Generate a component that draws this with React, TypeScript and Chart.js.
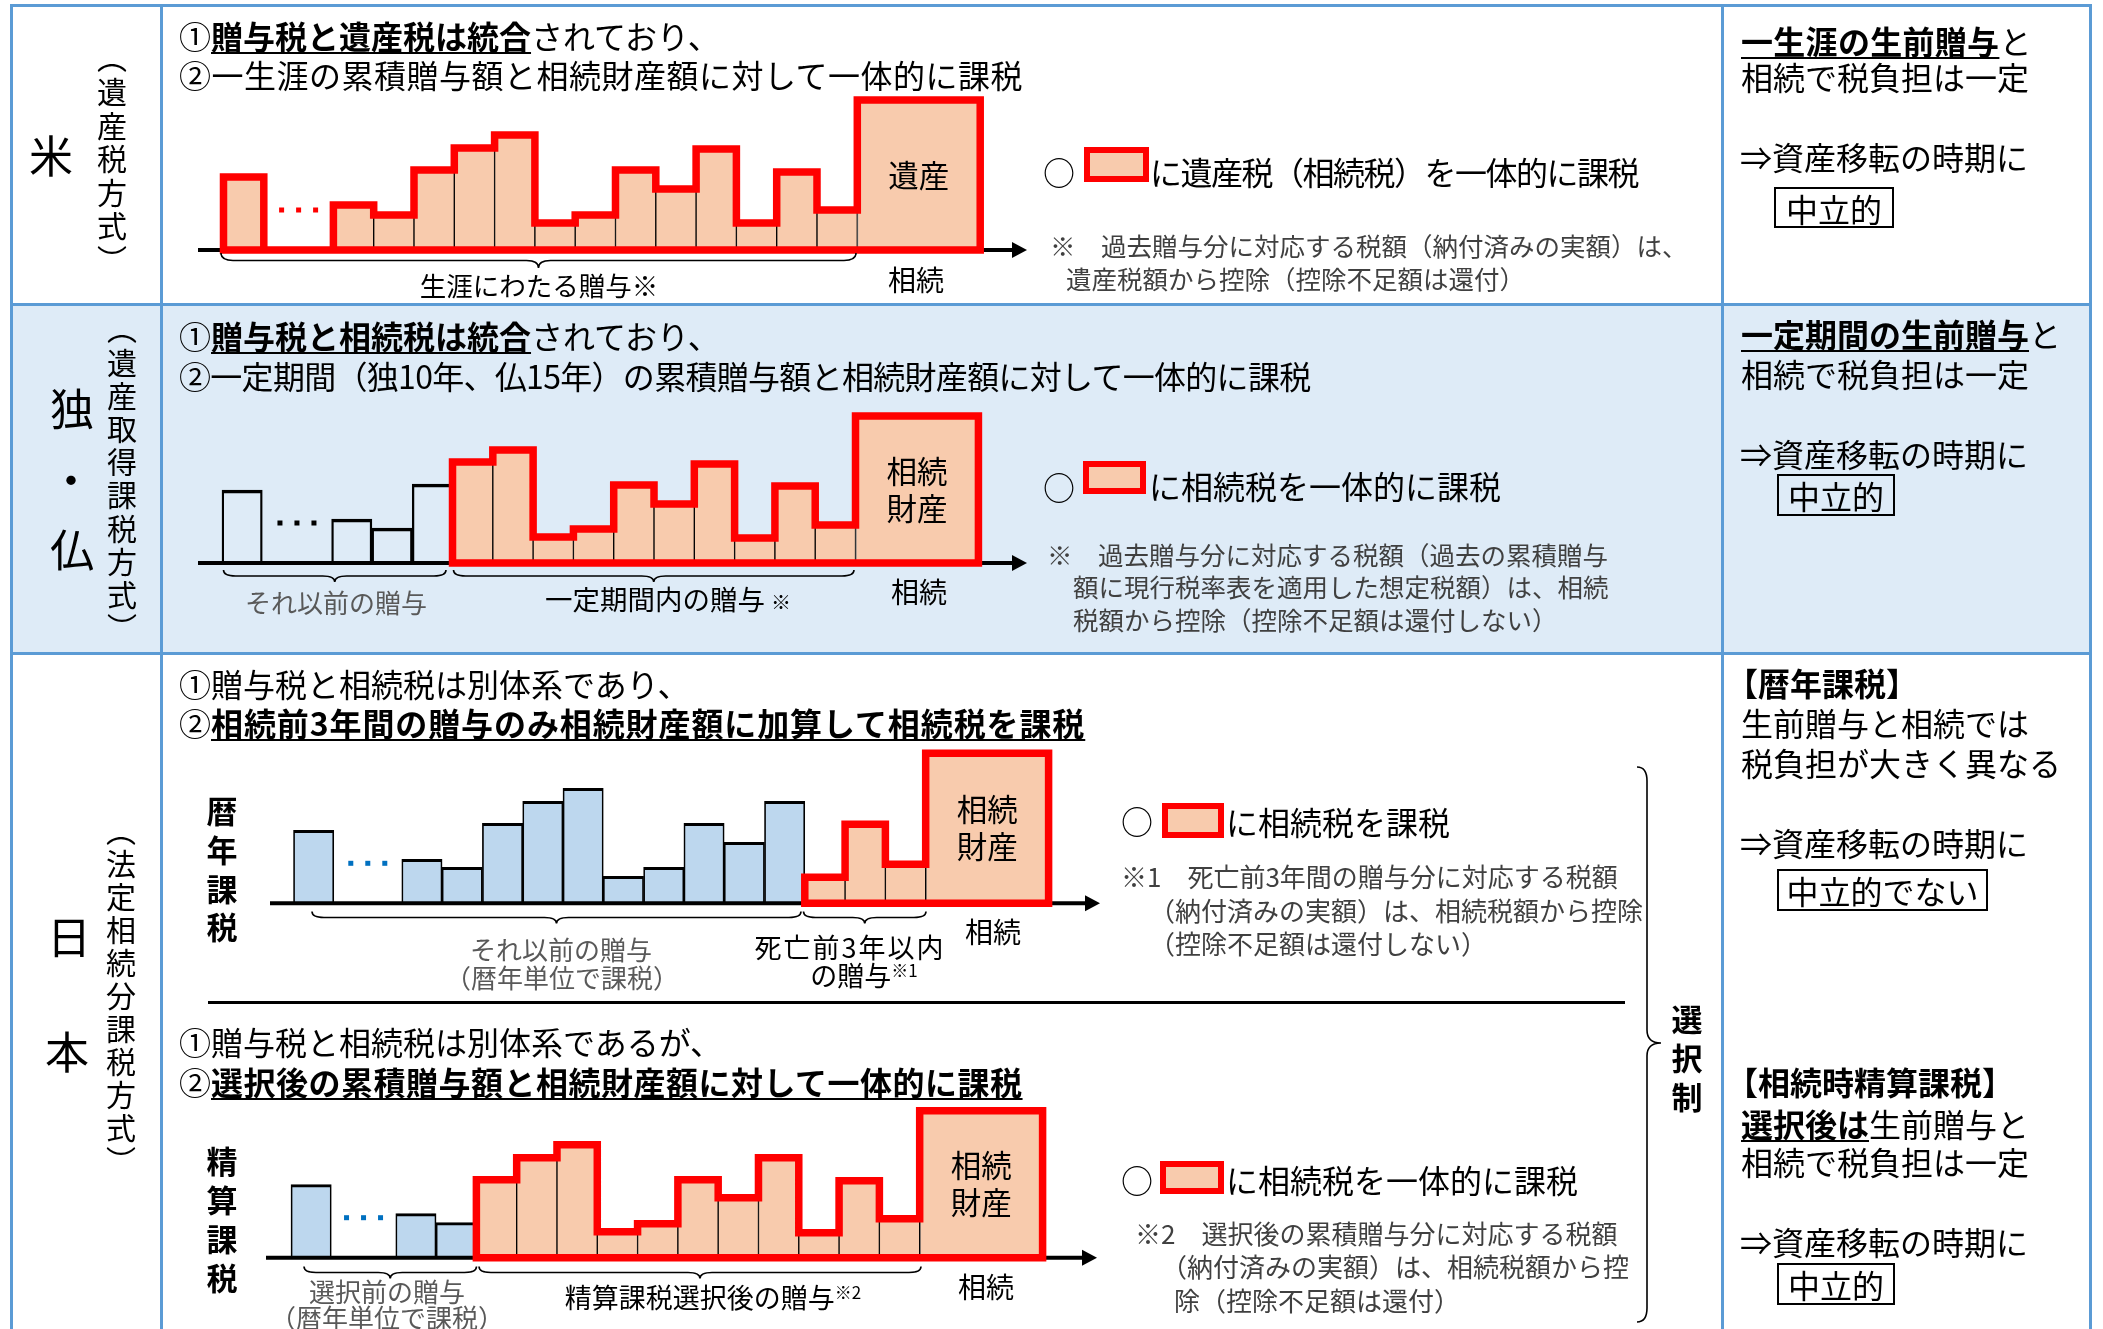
import React, { useEffect, useRef } from "react";
import { Chart, registerables } from "chart.js";

Chart.register(...registerables);

const FONT = '"Noto Sans CJK JP", "Noto Sans CJK SC", sans-serif';
const RED = "#FF0000";
const SALMON = "#F8CBAD";
const LIGHT_BLUE = "#BDD7EE";
const DOT_BLUE = "#0070C0";
const FRAME = "#5B9BD5";
const BAND = "#DEEBF7";
const NOTE = "#404040";
const GRAY = "#595959";

// ---------------- data (bar heights) ----------------
// 米：遺産税方式
const usGifts = [73, 45, 35, 80, 102, 115, 27, 35, 80, 61, 101, 27, 78, 40];
const usEstate = 150;
const usTaxedFrom = 0;
// 独・仏：遺産取得課税方式
const deFrGifts = [73, 44, 35, 79, 101, 113, 26, 34, 78, 59, 99, 25, 77, 38];
const deFrEstate = 147;
const deFrTaxedFrom = 4;
// 日本：暦年課税
const jpAnnualGifts = [73, 44, 36, 80, 102, 115, 27, 36, 80, 61, 102, 26, 79, 39];
const jpAnnualEstate = 150;
const jpAnnualTaxedFrom = 11;
// 日本：相続時精算課税
const jpSettleGifts = [73, 44, 35, 78, 100, 113, 26, 34, 78, 60, 100, 25, 77, 39];
const jpSettleEstate = 147;
const jpSettleTaxedFrom = 3;

const usEstateLabel = ["遺産"];
const inheritLabel = ["相続", "財産"];

// ---------------- layout constants ----------------
const UNIT_PX = 40.3; // px per gift year
const ESTATE_UNITS = 3.05; // width of estate bar in gift-year units
const DOTS_LEVEL = 40; // height of the "…" mark

type Layout = { left: number; top: number; width: number; height: number; x0: number; base: number; gap: number };

type DiagramProps = {
  gifts: number[];
  estate: number;
  taxedFrom: number;
  plainFill: string;
  dotColor: string;
  estateLabel: string[];
  layout: Layout;
};

function Diagram({ gifts, estate, taxedFrom, plainFill, dotColor, estateLabel, layout }: DiagramProps) {
  const ref = useRef<HTMLCanvasElement>(null);
  useEffect(() => {
    const { width, height, x0, base, gap } = layout;
    const n = gifts.length;
    const center = (i: number) => (i === 0 ? 0.5 : gap + i + 0.5);
    const L = (i: number) => center(i) - 0.5;
    const R = (i: number) => center(i) + 0.5;
    const giftData = gifts.map((v, i) => ({ x: center(i), y: v }));
    const eL = gap + n;
    const eR = eL + ESTATE_UNITS;
    const estateData = [{ x: eL + ESTATE_UNITS / 2, y: estate }];

    const outline: { x: number; y: number }[] = [{ x: L(taxedFrom), y: 0 }];
    for (let i = taxedFrom; i < n; i++) {
      if (i > taxedFrom && i === 1) outline.push({ x: R(0), y: 0 }, { x: L(1), y: 0 });
      outline.push({ x: L(i), y: gifts[i] }, { x: R(i), y: gifts[i] });
    }
    outline.push({ x: eL, y: estate }, { x: eR, y: estate }, { x: eR, y: 0 }, { x: L(taxedFrom), y: 0 });

    const decor = {
      id: "decor",
      beforeDatasetDraw(chart: any, args: any) {
        if (args.meta.type !== "line") return;
        const ctx = chart.ctx as CanvasRenderingContext2D;
        const y = chart.scales.y.getPixelForValue(0);
        const w = chart.width;
        ctx.save();
        ctx.strokeStyle = "#000";
        ctx.fillStyle = "#000";
        ctx.lineWidth = 4;
        ctx.beginPath();
        ctx.moveTo(0, y);
        ctx.lineTo(w - 12, y);
        ctx.stroke();
        ctx.beginPath();
        ctx.moveTo(w - 1, y);
        ctx.lineTo(w - 16, y - 8);
        ctx.lineTo(w - 16, y + 8);
        ctx.closePath();
        ctx.fill();
        ctx.restore();
      },
      afterDatasetsDraw(chart: any) {
        const ctx = chart.ctx as CanvasRenderingContext2D;
        const xs = chart.scales.x;
        const ys = chart.scales.y;
        ctx.save();
        // "…" between first gift and the rest
        const cx = xs.getPixelForValue(1 + gap / 2);
        const cy = ys.getPixelForValue(DOTS_LEVEL);
        ctx.fillStyle = dotColor;
        for (let k = -1; k <= 1; k++) ctx.fillRect(cx + k * 17 - 2.5, cy - 2.5, 5, 5);
        // estate label
        const el = chart.getDatasetMeta(1).data[0];
        const mid = (el.y + el.base) / 2;
        const fs = 30.5;
        const pitch = 37;
        ctx.fillStyle = "#000";
        ctx.font = `${fs}px ${FONT}`;
        ctx.textAlign = "center";
        ctx.textBaseline = "alphabetic";
        estateLabel.forEach((t, i) => {
          const lc = mid + (i - (estateLabel.length - 1) / 2) * pitch;
          ctx.fillText(t, el.x, lc + 0.38 * fs);
        });
        ctx.restore();
      },
    };

    const chart = new Chart(ref.current as HTMLCanvasElement, {
      type: "bar",
      data: {
        datasets: [
          {
            type: "line",
            data: outline,
            borderColor: RED,
            borderWidth: 7.5,
            pointRadius: 0,
            fill: false,
            tension: 0,
            borderJoinStyle: "miter",
            borderCapStyle: "square",
            order: 0,
            clip: false,
          } as any,
          {
            type: "bar",
            data: estateData,
            backgroundColor: SALMON,
            borderColor: "#000",
            borderWidth: { top: 2, left: 1, right: 2, bottom: 0 },
            barPercentage: ESTATE_UNITS,
            categoryPercentage: 1,
            grouped: false,
            order: 1,
            clip: false,
          } as any,
          {
            type: "bar",
            data: giftData,
            backgroundColor: (c: any) => (c.dataIndex >= taxedFrom ? SALMON : plainFill),
            borderColor: "#000",
            borderWidth: (c: any) =>
              c.dataIndex >= taxedFrom
                ? { top: 2, left: 1, right: 1, bottom: 0 }
                : { top: 3, left: 1.7, right: 1.7, bottom: 0 },
            barPercentage: 1,
            categoryPercentage: 1,
            grouped: false,
            order: 2,
            clip: false,
          } as any,
        ],
      },
      options: {
        animation: false,
        responsive: false,
        maintainAspectRatio: false,
        events: [],
        layout: { padding: 0 },
        plugins: { legend: { display: false }, tooltip: { enabled: false } },
        scales: {
          x: {
            type: "linear",
            display: false,
            min: -x0 / UNIT_PX,
            max: (width - x0) / UNIT_PX,
            afterBuildTicks: (s: any) => {
              s.ticks = [];
            },
          },
          y: { type: "linear", display: false, min: -(height - base), max: base },
        },
      } as any,
      plugins: [decor as any],
    });
    return () => chart.destroy();
  }, []);
  const { left, top, width, height } = layout;
  return (
    <canvas
      ref={ref}
      width={width}
      height={height}
      style={{ position: "absolute", left, top, width, height }}
    />
  );
}

// ---------------- text helpers ----------------
type TP = {
  x: number;
  y: number;
  s?: number;
  c?: string;
  w?: number;
  center?: boolean;
  ls?: number;
  children: React.ReactNode;
};
function T({ x, y, s = 32, c = "#000", w = 400, center, ls, children }: TP) {
  return (
    <div
      style={{
        position: "absolute",
        left: x,
        top: y - s * 0.556,
        fontSize: s,
        lineHeight: `${s}px`,
        color: c,
        fontWeight: w,
        whiteSpace: "nowrap",
        letterSpacing: ls,
        transform: center ? "translateX(-50%)" : undefined,
      }}
    >
      {children}
    </div>
  );
}
function U({ children }: { children: React.ReactNode }) {
  return (
    <span
      style={{
        fontWeight: 700,
        textDecoration: "underline",
        textDecorationThickness: "2px",
        textUnderlineOffset: "3px",
      }}
    >
      {children}
    </span>
  );
}
function V({ cx, top, s, ls, w = 400, children }: { cx: number; top: number; s: number; ls: number; w?: number; children: React.ReactNode }) {
  return (
    <div
      style={{
        position: "absolute",
        left: cx - s / 2,
        top,
        width: s,
        writingMode: "vertical-rl",
        fontSize: s,
        lineHeight: `${s}px`,
        letterSpacing: ls,
        fontWeight: w,
        whiteSpace: "nowrap",
      }}
    >
      {children}
    </div>
  );
}
function Box({ x, y, w, h, children }: { x: number; y: number; w: number; h: number; children: React.ReactNode }) {
  return (
    <div
      style={{
        position: "absolute",
        left: x,
        top: y,
        width: w,
        height: h,
        boxSizing: "border-box",
        border: "2px solid #000",
        display: "flex",
        alignItems: "center",
        justifyContent: "center",
        fontSize: 32,
        lineHeight: "32px",
        whiteSpace: "nowrap",
      }}
    >
      {children}
    </div>
  );
}
function Swatch({ x, y, w, h }: { x: number; y: number; w: number; h: number }) {
  return (
    <div
      style={{
        position: "absolute",
        left: x,
        top: y,
        width: w,
        height: h,
        boxSizing: "border-box",
        border: `6px solid ${RED}`,
        background: SALMON,
      }}
    />
  );
}
function Rect({ x, y, w, h, c }: { x: number; y: number; w: number; h: number; c: string }) {
  return <div style={{ position: "absolute", left: x, top: y, width: w, height: h, background: c }} />;
}
function hBrace(x1: number, x2: number, y0: number, h: number) {
  const m = (x1 + x2) / 2;
  const y1 = y0 + h / 2;
  const y2 = y0 + h;
  const r = Math.min(12, (x2 - x1) / 5);
  return `M${x1},${y0} Q${x1},${y1} ${x1 + r},${y1} L${m - r},${y1} Q${m},${y1} ${m},${y2} Q${m},${y1} ${m + r},${y1} L${x2 - r},${y1} Q${x2},${y1} ${x2},${y0}`;
}

const SUP = { fontSize: 17, verticalAlign: "top", lineHeight: "17px" } as React.CSSProperties;

export default function App() {
  return (
    <div
      style={{
        position: "absolute",
        left: 0,
        top: 0,
        width: 2103,
        height: 1329,
        overflow: "hidden",
        background: "#fff",
        fontFamily: FONT,
        color: "#000",
      }}
    >
      {/* band of the second row */}
      <Rect x={10} y={304} w={2082} h={349} c={BAND} />

      {/* diagrams */}
      <Diagram
        gifts={usGifts}
        estate={usEstate}
        taxedFrom={usTaxedFrom}
        plainFill={SALMON}
        dotColor={RED}
        estateLabel={usEstateLabel}
        layout={{ left: 198, top: 90, width: 830, height: 175, x0: 25.5, base: 160, gap: 1.727 }}
      />
      <Diagram
        gifts={deFrGifts}
        estate={deFrEstate}
        taxedFrom={deFrTaxedFrom}
        plainFill="rgba(0,0,0,0)"
        dotColor="#000"
        estateLabel={inheritLabel}
        layout={{ left: 198, top: 400, width: 830, height: 178, x0: 24, base: 163, gap: 1.72 }}
      />
      <Diagram
        gifts={jpAnnualGifts}
        estate={jpAnnualEstate}
        taxedFrom={jpAnnualTaxedFrom}
        plainFill={LIGHT_BLUE}
        dotColor={DOT_BLUE}
        estateLabel={inheritLabel}
        layout={{ left: 270, top: 740, width: 831, height: 178, x0: 23.5, base: 163.3, gap: 1.687 }}
      />
      <Diagram
        gifts={jpSettleGifts}
        estate={jpSettleEstate}
        taxedFrom={jpSettleTaxedFrom}
        plainFill={LIGHT_BLUE}
        dotColor={DOT_BLUE}
        estateLabel={inheritLabel}
        layout={{ left: 266, top: 1095, width: 832, height: 178, x0: 25, base: 162.7, gap: 1.6 }}
      />

      {/* frame lines */}
      <Rect x={10} y={3.5} w={2082} h={3} c={FRAME} />
      <Rect x={10} y={302.5} w={2082} h={3.5} c={FRAME} />
      <Rect x={10} y={651.5} w={2082} h={3.5} c={FRAME} />
      <Rect x={10} y={3.5} w={3} h={1330} c={FRAME} />
      <Rect x={159.5} y={3.5} w={3} h={1330} c={FRAME} />
      <Rect x={1721} y={3.5} w={3} h={1330} c={FRAME} />
      <Rect x={2089} y={3.5} w={3} h={1330} c={FRAME} />
      {/* separator in the Japan row */}
      <Rect x={208} y={1001} w={1417} h={3} c="#000" />

      {/* braces */}
      <svg
        width={2103}
        height={1329}
        style={{ position: "absolute", left: 0, top: 0, pointerEvents: "none" }}
      >
        <g fill="none" stroke="#000" strokeWidth={1.6}>
          <path d={hBrace(221, 856, 253, 15)} />
          <path d={hBrace(223.5, 446, 570, 12)} />
          <path d={hBrace(453.5, 854, 570, 12)} />
          <path d={hBrace(312, 801, 911.5, 12)} />
          <path d={hBrace(803.5, 926, 911.5, 12)} />
          <path d={hBrace(304, 476.5, 1266.5, 12)} />
          <path d={hBrace(479, 921, 1266.5, 12)} />
          <path d="M1637,767 Q1647,767 1647,781 L1647,1030 Q1647,1043 1661,1043 Q1647,1043 1647,1056 L1647,1308 Q1647,1322 1637,1322" />
        </g>
      </svg>

      {/* ---------- left column ---------- */}
      <T x={51} y={156} s={44} center>米</T>
      <V cx={112} top={43.4} s={30} ls={3.6}>（遺産税方式）</V>
      <T x={72} y={409} s={44} center>独</T>
      <T x={71} y={480} s={44} center>・</T>
      <T x={72} y={550} s={44} center>仏</T>
      <V cx={122} top={314.3} s={30} ls={3.2}>（遺産取得課税方式）</V>
      <T x={69} y={937} s={44} center>日</T>
      <T x={67} y={1052} s={44} center>本</T>
      <V cx={121} top={815.5} s={30} ls={3}>（法定相続分課税方式）</V>

      {/* ---------- row 1: 米 ---------- */}
      <T x={179} y={37}>①<U>贈与税と遺産税は統合</U>されており、</T>
      <T x={179} y={76} ls={0.5}>②一生涯の累積贈与額と相続財産額に対して一体的に課税</T>
      <T x={1043} y={173}>○</T>
      <Swatch x={1084} y={147} w={65} h={35} />
      <T x={1150} y={173} ls={-1.5}>に遺産税（相続税）を一体的に課税</T>
      <T x={1050} y={246} s={25.5} c={NOTE}>※　過去贈与分に対応する税額（納付済みの実額）は、</T>
      <T x={1066} y={279} s={25.5} c={NOTE}>遺産税額から控除（控除不足額は還付）</T>
      <T x={539} y={287} s={26.5} center>生涯にわたる贈与※</T>
      <T x={916} y={281} s={28} center>相続</T>
      <T x={1741} y={42} ls={0.3}><U>一生涯の生前贈与</U>と</T>
      <T x={1741} y={78}>相続で税負担は一定</T>
      <T x={1740} y={158}>⇒資産移転の時期に</T>
      <Box x={1774} y={187} w={120} h={41}>中立的</Box>

      {/* ---------- row 2: 独・仏 ---------- */}
      <T x={179} y={337}>①<U>贈与税と相続税は統合</U>されており、</T>
      <T x={179} y={377} ls={-0.7}>②一定期間（独10年、仏15年）の累積贈与額と相続財産額に対して一体的に課税</T>
      <T x={1043} y={488}>○</T>
      <Swatch x={1083} y={461} w={63} h={33} />
      <T x={1149} y={487}>に相続税を一体的に課税</T>
      <T x={1047} y={555} s={25.5} c={NOTE}>※　過去贈与分に対応する税額（過去の累積贈与</T>
      <T x={1073} y={587} s={25.5} c={NOTE}>額に現行税率表を適用した想定税額）は、相続</T>
      <T x={1073} y={620} s={25.5} c={NOTE}>税額から控除（控除不足額は還付しない）</T>
      <T x={336} y={603} s={26} c={GRAY} center>それ以前の贈与</T>
      <T x={668} y={600} s={27.5} center>一定期間内の贈与 <span style={{ fontSize: 20 }}>※</span></T>
      <T x={919} y={593} s={28} center>相続</T>
      <T x={1741} y={335}><U>一定期間の生前贈与</U>と</T>
      <T x={1741} y={375}>相続で税負担は一定</T>
      <T x={1740} y={455}>⇒資産移転の時期に</T>
      <Box x={1777} y={474} w={118} h={42}>中立的</Box>

      {/* ---------- row 3: 日本 (暦年課税) ---------- */}
      <T x={179} y={685}>①贈与税と相続税は別体系であり、</T>
      <T x={179} y={724}>②<span style={{ letterSpacing: 0.9 }}><U>相続前3年間の贈与のみ相続財産額に加算して相続税を課税</U></span></T>
      <V cx={222} top={795.5} s={31} ls={7.7} w={700}>暦年課税</V>
      <T x={561} y={950} s={26} c={GRAY} center>それ以前の贈与</T>
      <T x={562} y={978} s={26} c={GRAY} center>（暦年単位で課税）</T>
      <T x={850} y={948} s={27} ls={2} center>死亡前3年以内</T>
      <T x={864} y={976} s={27} center>の贈与<span style={SUP}>※1</span></T>
      <T x={993} y={933} s={28} center>相続</T>
      <T x={1121} y={822}>○</T>
      <Swatch x={1162} y={803} w={62} h={35} />
      <T x={1226} y={823}>に相続税を課税</T>
      <T x={1121} y={877} s={26} c={NOTE}>※1　死亡前3年間の贈与分に対応する税額</T>
      <T x={1149} y={911} s={26} c={NOTE}>（納付済みの実額）は、相続税額から控除</T>
      <T x={1149} y={944} s={26} c={NOTE}>（控除不足額は還付しない）</T>
      <T x={1726} y={684} w={700}>【暦年課税】</T>
      <T x={1741} y={724}>生前贈与と相続では</T>
      <T x={1741} y={764}>税負担が大きく異なる</T>
      <T x={1740} y={844}>⇒資産移転の時期に</T>
      <Box x={1777} y={869} w={211} h={42}>中立的でない</Box>

      {/* ---------- row 3: 日本 (相続時精算課税) ---------- */}
      <T x={179} y={1043}>①贈与税と相続税は別体系であるが、</T>
      <T x={179} y={1083}>②<span style={{ letterSpacing: 0.5 }}><U>選択後の累積贈与額と相続財産額に対して一体的に課税</U></span></T>
      <V cx={222} top={1145.5} s={31} ls={7.8} w={700}>精算課税</V>
      <T x={387} y={1292} s={26} c={GRAY} center>選択前の贈与</T>
      <T x={387} y={1318} s={26} c={GRAY} center>（暦年単位で課税）</T>
      <T x={713} y={1298} s={27} center>精算課税選択後の贈与<span style={SUP}>※2</span></T>
      <T x={986} y={1288} s={28} center>相続</T>
      <T x={1121} y={1181}>○</T>
      <Swatch x={1160} y={1161} w={64} h={33} />
      <T x={1226} y={1181}>に相続税を一体的に課税</T>
      <T x={1135} y={1234} s={26} c={NOTE}>※2　選択後の累積贈与分に対応する税額</T>
      <T x={1161} y={1267} s={26} c={NOTE}>（納付済みの実額）は、相続税額から控</T>
      <T x={1174} y={1301} s={26} c={NOTE}>除（控除不足額は還付）</T>
      <V cx={1687} top={1003.5} s={31} ls={8} w={700}>選択制</V>
      <T x={1726} y={1083} w={700}>【相続時精算課税】</T>
      <T x={1741} y={1125}><U>選択後は</U>生前贈与と</T>
      <T x={1741} y={1163}>相続で税負担は一定</T>
      <T x={1740} y={1243}>⇒資産移転の時期に</T>
      <Box x={1777} y={1263} w={118} h={42}>中立的</Box>
    </div>
  );
}
